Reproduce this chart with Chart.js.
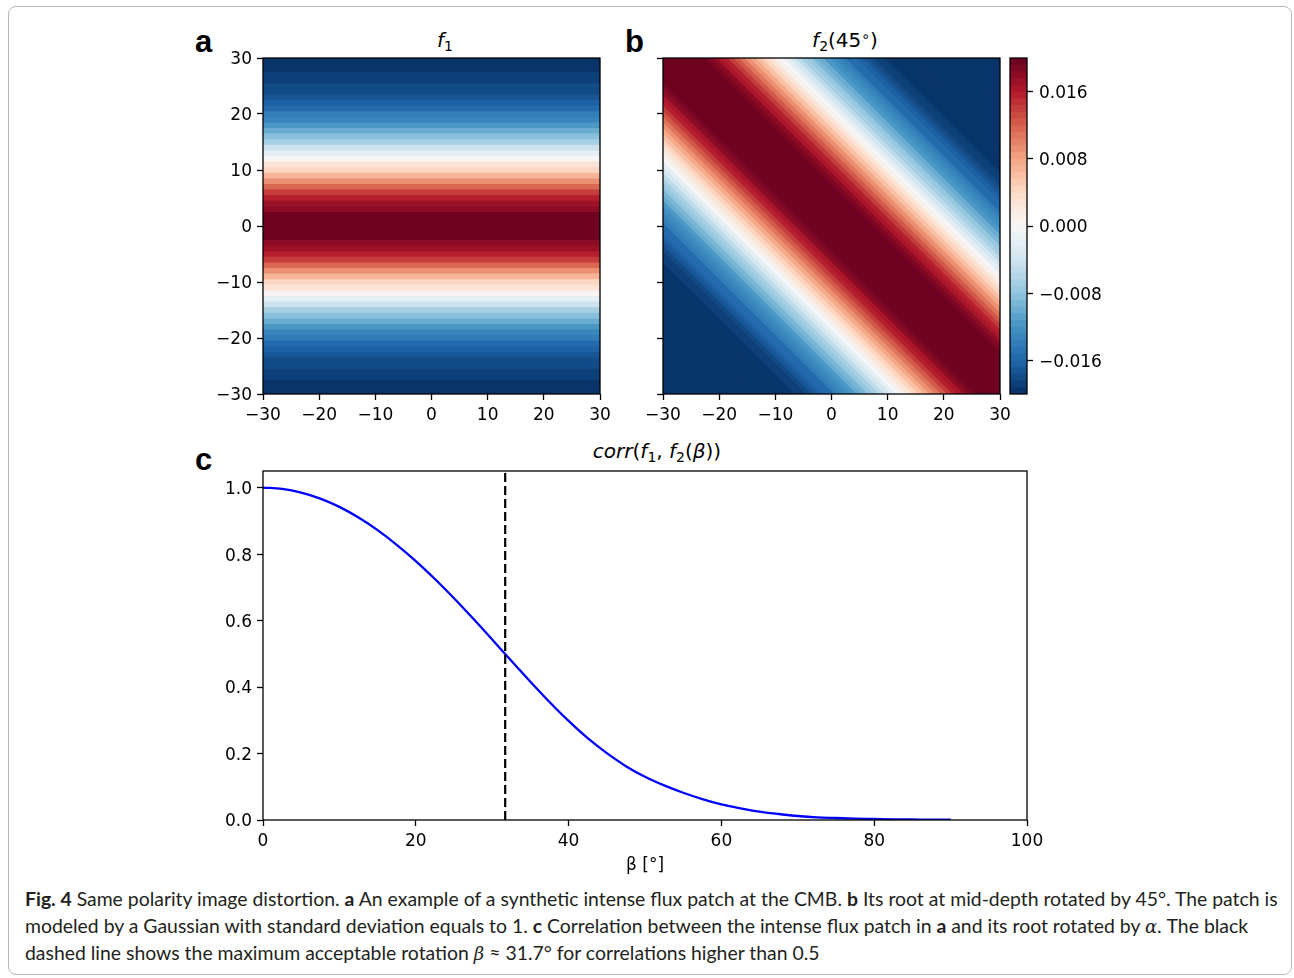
<!DOCTYPE html>
<html>
<head>
<meta charset="utf-8">
<script src="https://cdn.jsdelivr.net/npm/chart.js@4.4.1/dist/chart.umd.min.js"></script>
<style>
  body { margin: 0; background: #fff; width: 1294px; height: 978px; position: relative; overflow: hidden; font-family: 'DejaVu Sans'; }
  #frame { position: absolute; left: 8px; top: 6px; width: 1284px; height: 969px; border: 1px solid #b8b8b8; border-radius: 8px; box-sizing: border-box; }
  canvas { position: absolute; }
  .lbl { position: absolute; font: bold 31px 'Liberation Sans'; line-height: 31px; color: #000; }
  .ttl { position: absolute; font-size: 20px; line-height: 20px; transform: translateX(-50%); white-space: nowrap; color: #000; }
  .ttl sub { font-size: 0.7em; vertical-align: -0.25em; line-height: 0; font-style: normal; }
  .ttl sup { font-size: 0.7em; vertical-align: 0.45em; line-height: 0; }
  #caption { position: absolute; left: 25px; top: 886px; font: 19.4px Lato; line-height: 26.5px; color: #231f20; white-space: nowrap; }
  #caption i { font-family: 'DejaVu Serif'; font-size: 18px; }
</style>
</head>
<body>
<div id="frame"></div>

<div class="lbl" style="left:195px; top:26px;">a</div>
<div class="lbl" style="left:625px; top:26px;">b</div>
<div class="lbl" style="left:195px; top:444px;">c</div>

<div class="ttl" style="left:445px; top:30px;"><i>f</i><sub>1</sub></div>
<div class="ttl" style="left:845px; top:30px;"><i>f</i><sub>2</sub>(45<sup>∘</sup>)</div>
<div class="ttl" style="left:657px; top:441px;"><i>corr</i>(<i>f</i><sub>1</sub>, <i>f</i><sub>2</sub>(<i>β</i>))</div>

<canvas id="panelA" width="430" height="380" style="left:190px; top:50px;"></canvas>
<canvas id="panelB" width="400" height="380" style="left:620px; top:50px;"></canvas>
<canvas id="cbar" width="120" height="380" style="left:1000px; top:50px;"></canvas>
<canvas id="panelC" width="870" height="415" style="left:190px; top:462px;"></canvas>

<div id="caption"><b>Fig. 4</b> Same polarity image distortion. <b>a</b> An example of a synthetic intense flux patch at the CMB. <b>b</b> Its root at mid-depth rotated by 45°. The patch is<br>modeled by a Gaussian with standard deviation equals to 1. <b>c</b> Correlation between the intense flux patch in <b>a</b> and its root rotated by <i>α</i>. The black<br>dashed line shows the maximum acceptable rotation <i>β</i> ≈ 31.7° for correlations higher than 0.5</div>

<script>
// panel a: f1 read along y, one value per unit from y = -30 to 30
const f1Start = -30;
const f1Values = [
  -0.0199, -0.0197, -0.0195, -0.0192, -0.0189, -0.0184, -0.0178, -0.0172, -0.0164, -0.0155,
  -0.0144, -0.0132, -0.0118, -0.0102, -0.0084, -0.0065, -0.0045, -0.0023, 0.0000, 0.0024,
  0.0047, 0.0071, 0.0094, 0.0116, 0.0137, 0.0155, 0.0171, 0.0183, 0.0192, 0.0198,
  0.0200,
  0.0198, 0.0192, 0.0183, 0.0171, 0.0155, 0.0137, 0.0116, 0.0094, 0.0071, 0.0047,
  0.0024, 0.0000, -0.0023, -0.0045, -0.0065, -0.0084, -0.0102, -0.0118, -0.0132, -0.0144,
  -0.0155, -0.0164, -0.0172, -0.0178, -0.0184, -0.0189, -0.0192, -0.0195, -0.0197, -0.0199
];

// panel b: f2(45°) read across the diagonal, one value per unit of x + y from -60 to 60
const f2Start = -60;
const f2Values = [
  -0.0200, -0.0200, -0.0200, -0.0200, -0.0200, -0.0200, -0.0200, -0.0200, -0.0200, -0.0200,
  -0.0200, -0.0200, -0.0200, -0.0200, -0.0200, -0.0200, -0.0200, -0.0200, -0.0200, -0.0200,
  -0.0200, -0.0200,
  -0.0197, -0.0193, -0.0189, -0.0185, -0.0180, -0.0174, -0.0167, -0.0160, -0.0153, -0.0144,
  -0.0135, -0.0125, -0.0115, -0.0103, -0.0091, -0.0078, -0.0065, -0.0051, -0.0036, -0.0020,
  -0.0005, 0.0011, 0.0028, 0.0044, 0.0061, 0.0077, 0.0093, 0.0109, 0.0125, 0.0139,
  0.0153, 0.0166, 0.0178, 0.0189, 0.0198,
  0.0200, 0.0200, 0.0200, 0.0200, 0.0200, 0.0200, 0.0200, 0.0200, 0.0200, 0.0200,
  0.0198, 0.0189, 0.0178, 0.0166, 0.0153, 0.0139, 0.0125, 0.0109, 0.0093, 0.0077,
  0.0061, 0.0044, 0.0028, 0.0011, -0.0005, -0.0020, -0.0036, -0.0051, -0.0065, -0.0078,
  -0.0091, -0.0103, -0.0115, -0.0125, -0.0135, -0.0144, -0.0153, -0.0160, -0.0167, -0.0174,
  -0.0180, -0.0185, -0.0189, -0.0193, -0.0197,
  -0.0200, -0.0200, -0.0200, -0.0200, -0.0200, -0.0200, -0.0200, -0.0200, -0.0200, -0.0200,
  -0.0200, -0.0200, -0.0200, -0.0200, -0.0200, -0.0200, -0.0200, -0.0200, -0.0200
];

const heatTicks = [-30, -20, -10, 0, 10, 20, 30];
const cbarTicks = [-0.016, -0.008, 0, 0.008, 0.016];
const cbarMin = -0.02;
const cbarMax = 0.02;
const cbarLevels = 50;

// panel c: correlation against rotation angle
const corrBeta = [0, 2.5, 5, 7.5, 10, 12.5, 15, 17.5, 20, 22.5, 25, 27.5, 30, 32.5, 35, 37.5, 40, 42.5, 45,
  47.5, 50, 52.5, 55, 57.5, 60, 62.5, 65, 67.5, 70, 72.5, 75, 77.5, 80, 82.5, 85, 87.5, 90];
const corrValues = [1.000, 0.996, 0.985, 0.967, 0.942, 0.910, 0.872, 0.828, 0.779, 0.725, 0.667, 0.606, 0.543,
  0.479, 0.416, 0.355, 0.298, 0.246, 0.201, 0.162, 0.130, 0.104, 0.082, 0.063, 0.047, 0.035, 0.025,
  0.018, 0.012, 0.008, 0.006, 0.004, 0.003, 0.002, 0.0015, 0.001, 0.001];
const betaMax = 31.7;
const corrXTicks = [0, 20, 40, 60, 80, 100];
const corrYTicks = [0, 0.2, 0.4, 0.6, 0.8, 1.0];
const corrYMax = 1.05;

// RdBu_r
const rdbuR = ['#053061', '#2166ac', '#4393c3', '#92c5de', '#d1e5f0', '#f7f7f7',
  '#fddbc7', '#f4a582', '#d6604d', '#b2182b', '#67001f'];

function hexRgb(h) {
  return [1, 3, 5].map(i => parseInt(h.slice(i, i + 2), 16));
}

function cmap(t) {
  const pos = Math.min(Math.max(t, 0), 1) * (rdbuR.length - 1);
  const i = Math.min(Math.floor(pos), rdbuR.length - 2);
  const f = pos - i;
  const a = hexRgb(rdbuR[i]), b = hexRgb(rdbuR[i + 1]);
  const c = a.map((v, k) => Math.round(v + (b[k] - v) * f));
  return `rgb(${c[0]},${c[1]},${c[2]})`;
}

const levelStep = (cbarMax - cbarMin) / cbarLevels;

function levelColor(v) {
  let k = Math.floor((v - cbarMin) / levelStep + 1e-6);
  k = Math.min(cbarLevels - 1, Math.max(0, k));
  return cmap((k + 0.5) / cbarLevels);
}

const minus = v => (v < 0 ? '\u2212' : '') + Math.abs(v);

Chart.defaults.font.family = 'DejaVu Sans';
Chart.defaults.font.size = 17;
Chart.defaults.color = '#000';
Chart.defaults.animation = false;
Chart.defaults.plugins.legend.display = false;
Chart.defaults.plugins.tooltip.enabled = false;

const boxFrame = {
  id: 'boxFrame',
  afterDatasetsDraw(chart) {
    const {ctx, chartArea: a} = chart;
    ctx.save();
    ctx.strokeStyle = '#000';
    ctx.lineWidth = 1.3;
    ctx.strokeRect(a.left, a.top, a.right - a.left, a.bottom - a.top);
    ctx.restore();
  }
};

const tickGrid = {drawOnChartArea: false, drawTicks: true, tickLength: 6, tickWidth: 1.3, tickColor: '#000'};

function fixedTicks(list) {
  return scale => { scale.ticks = list.map(v => ({value: v})); };
}

// each cell becomes a filled edge line; lower cells come first so they paint over the fill below the next edge
function bandSets(values, start, edgeLine) {
  return values.map((v, i) => ({
    data: edgeLine(start + i + 0.5),
    borderWidth: 0,
    pointRadius: 0,
    tension: 0,
    fill: 'start',
    backgroundColor: levelColor(v)
  }));
}

function heatOptions(yWidth, showYLabels) {
  return {
    responsive: false,
    layout: {padding: {top: 8, right: 20, left: 0, bottom: 0}},
    scales: {
      x: {
        type: 'linear', min: heatTicks[0], max: heatTicks[heatTicks.length - 1],
        afterBuildTicks: fixedTicks(heatTicks),
        afterFit: s => { s.height = 36; s.paddingLeft = 0; s.paddingRight = 0; },
        ticks: {padding: 5, maxRotation: 0, autoSkip: false, callback: v => minus(v)},
        grid: tickGrid, border: {display: false}
      },
      y: {
        type: 'linear', min: heatTicks[0], max: heatTicks[heatTicks.length - 1],
        afterBuildTicks: fixedTicks(heatTicks),
        afterFit: s => { s.width = yWidth; s.paddingTop = 0; s.paddingBottom = 0; },
        ticks: {padding: 5, labelOffset: 2, autoSkip: false, callback: v => showYLabels ? minus(v) : ''},
        grid: tickGrid, border: {display: false}
      }
    }
  };
}

const lo = heatTicks[0], hi = heatTicks[heatTicks.length - 1];

new Chart(document.getElementById('panelA'), {
  type: 'line',
  data: {datasets: bandSets(f1Values, f1Start, e => [{x: lo, y: e}, {x: hi, y: e}])},
  options: heatOptions(73, true),
  plugins: [boxFrame]
});

new Chart(document.getElementById('panelB'), {
  type: 'line',
  data: {datasets: bandSets(f2Values, f2Start, e => [{x: lo, y: e - lo}, {x: hi, y: e - hi}])},
  options: heatOptions(43, false),
  plugins: [boxFrame]
});

// colorbar: one band per contour level
const cbarBands = [];
for (let k = 0; k < cbarLevels; k++) {
  const top = cbarMin + (k + 1) * levelStep;
  cbarBands.push({
    data: [{x: 0, y: top}, {x: 1, y: top}],
    borderWidth: 0, pointRadius: 0, fill: 'start',
    backgroundColor: cmap((k + 0.5) / cbarLevels)
  });
}

new Chart(document.getElementById('cbar'), {
  type: 'line',
  data: {datasets: cbarBands},
  options: {
    responsive: false,
    layout: {padding: {top: 8, right: 0, left: 10, bottom: 36}},
    scales: {
      x: {type: 'linear', min: 0, max: 1, display: false},
      y: {
        type: 'linear', position: 'right', min: cbarMin, max: cbarMax,
        afterBuildTicks: fixedTicks(cbarTicks),
        afterFit: s => { s.width = 93; s.paddingTop = 0; s.paddingBottom = 0; },
        ticks: {
          padding: 6, labelOffset: 2, autoSkip: false,
          callback: v => (v < -1e-9 ? '\u2212' : '') + Math.abs(v).toFixed(3)
        },
        grid: tickGrid, border: {display: false}
      }
    }
  },
  plugins: [boxFrame]
});

new Chart(document.getElementById('panelC'), {
  type: 'line',
  data: {
    datasets: [
      {
        data: [{x: betaMax, y: 0}, {x: betaMax, y: corrYMax}],
        borderColor: '#000', borderWidth: 2.2, borderDash: [9, 4], pointRadius: 0
      },
      {
        data: corrBeta.map((b, i) => ({x: b, y: corrValues[i]})),
        borderColor: '#0000ff', borderWidth: 2.3, pointRadius: 0,
        cubicInterpolationMode: 'monotone', fill: false
      }
    ]
  },
  options: {
    responsive: false,
    layout: {padding: {top: 9, right: 33, left: 0, bottom: 0}},
    scales: {
      x: {
        type: 'linear', min: 0, max: 100,
        afterBuildTicks: fixedTicks(corrXTicks),
        afterFit: s => { s.height = 57; s.paddingLeft = 0; s.paddingRight = 0; },
        ticks: {padding: 5, maxRotation: 0, autoSkip: false},
        title: {display: true, text: 'β [°]', padding: {top: 0, bottom: 1}},
        grid: tickGrid, border: {display: false}
      },
      y: {
        type: 'linear', min: 0, max: corrYMax,
        afterBuildTicks: fixedTicks(corrYTicks),
        afterFit: s => { s.width = 73; s.paddingTop = 0; s.paddingBottom = 0; },
        ticks: {padding: 5, labelOffset: 2, autoSkip: false, callback: v => v.toFixed(1)},
        grid: tickGrid, border: {display: false}
      }
    }
  },
  plugins: [boxFrame]
});
</script>
</body>
</html>
